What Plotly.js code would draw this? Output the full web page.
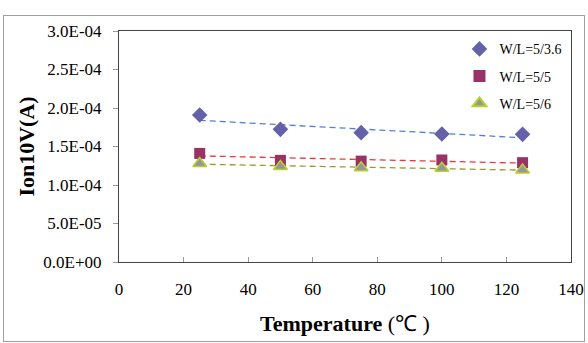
<!DOCTYPE html>
<html><head><meta charset="utf-8">
<script src="https://cdn.plot.ly/plotly-3.0.1.min.js"></script>
<style>
body{margin:0;padding:0;background:#fff;}
#wrap{position:relative;width:588px;height:343px;}
#chart{width:588px;height:343px;}
#frame{position:absolute;left:3px;top:15px;width:580px;height:325px;border:1px solid #a0a0a0;pointer-events:none;}
</style></head>
<body>
<div id="wrap"><div id="chart"></div><div id="frame"></div></div>
<script>
const temperature = [25, 50, 75, 100, 125];
const wl36 = [1.91e-4, 1.723e-4, 1.68e-4, 1.662e-4, 1.658e-4];
const wl5 = [1.41e-4, 1.32e-4, 1.31e-4, 1.325e-4, 1.29e-4];
const wl6 = [1.28e-4, 1.24e-4, 1.225e-4, 1.217e-4, 1.195e-4];
const seriesNames = ['W/L=5/3.6', 'W/L=5/5', 'W/L=5/6'];
const yTickVals = [0, 5e-5, 1e-4, 1.5e-4, 2e-4, 2.5e-4, 3e-4];
const yTickText = ['0.0E+00','5.0E-05','1.0E-04','1.5E-04','2.0E-04','2.5E-04','3.0E-04'];
const xTickVals = [0,20,40,60,80,100,120,140];

function linfit(xs, ys){
  const n = xs.length;
  const mx = xs.reduce((a,b)=>a+b,0)/n, my = ys.reduce((a,b)=>a+b,0)/n;
  let sxy=0, sxx=0;
  for(let i=0;i<n;i++){sxy+=(xs[i]-mx)*(ys[i]-my); sxx+=(xs[i]-mx)*(xs[i]-mx);}
  const b = sxy/sxx, a = my-b*mx;
  return xs.map(x=>a+b*x);
}

const font = "'Liberation Serif', 'Times New Roman', serif";
const sets = [
  {y: wl36, name: seriesNames[0], line:'#4f7fe0', marker:{symbol:'diamond', size:12, color:'#6461a8'}},
  {y: wl5, name: seriesNames[1], line:'#e8383c', marker:{symbol:'square', size:11, color:'#993366'}},
  {y: wl6, name: seriesNames[2], line:'#9a9a30', marker:{symbol:'triangle-up', size:12, color:'#969696', line:{color:'#b8d02c', width:1.5}}}
];
const traces = [];
sets.forEach(s=>{
  traces.push({x: temperature, y: linfit(temperature, s.y), mode:'lines', showlegend:false, hoverinfo:'skip',
    line:{color:s.line, width:1.3, dash:'6px,4px'}});
});
sets.forEach((s,i)=>{
  traces.push({x: temperature, y: s.y, mode:'markers', name: s.name, marker: s.marker, legendgroup:'g'+i});
});

const layout = {
  width:588, height:343,
  margin:{l:119, r:17, t:31, b:81},
  paper_bgcolor:'#fff', plot_bgcolor:'#fff',
  font:{family:font, size:17, color:'#000'},
  showlegend:true,
  legend:{x:0.99, y:0.99, xanchor:'right', yanchor:'top', bgcolor:'rgba(0,0,0,0)',
    font:{family:font, size:14}, tracegroupgap:6, itemsizing:'constant'},
  xaxis:{range:[0,140], tickvals:xTickVals, ticks:'inside', ticklen:5, tickcolor:'#999',
    showgrid:false, zeroline:false, showline:true, linecolor:'#444', linewidth:1, mirror:true,
    tickfont:{family:font, size:17}, ticklabelstandoff:12,
    title:{text:'<b>Temperature </b>(℃ )', font:{family:font, size:22}, standoff:17}},
  yaxis:{range:[0,3e-4], tickvals:yTickVals, ticktext:yTickText, ticks:'outside', ticklen:5, tickcolor:'#999',
    showgrid:false, zeroline:false, showline:true, linecolor:'#444', linewidth:1, mirror:true,
    tickfont:{family:font, size:17}, ticklabelstandoff:8,
    title:{text:'<b>Ion10V(A)</b>', font:{family:font, size:22}, standoff:2}}
};
Plotly.newPlot('chart', traces, layout, {displayModeBar:false, staticPlot:true});
</script>
</body></html>
